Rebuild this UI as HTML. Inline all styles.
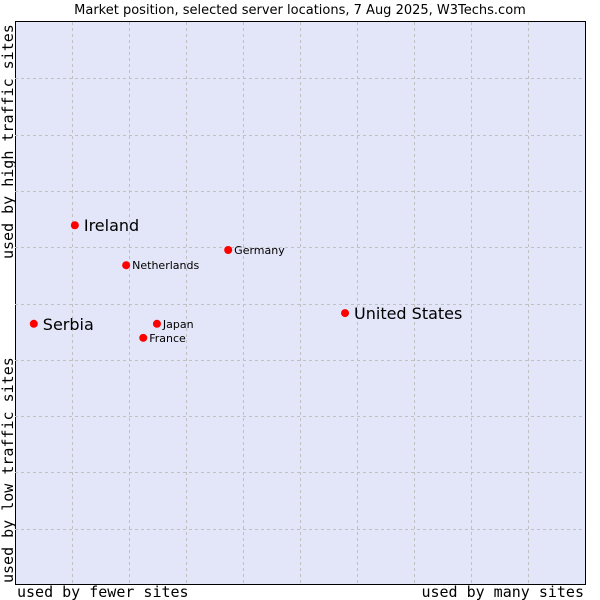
<!DOCTYPE html>
<html><head><meta charset="utf-8"><style>
body{margin:0;background:#fff;}
svg{display:block;}
.mono{font-family:"DejaVu Sans Mono","Liberation Mono",monospace;font-size:15px;fill:#000;}
.sans{font-family:"DejaVu Sans","Liberation Sans",sans-serif;fill:#000;}
</style></head><body>
<svg id="chart" width="600" height="600">
<text class="sans" x="300" y="14" font-size="13" text-anchor="middle">Market position, selected server locations, 7 Aug 2025, W3Techs.com</text>
<rect x="15.5" y="21.5" width="570" height="563" fill="#e3e5f8" stroke="#000" stroke-width="1"/>
<g id="grid"></g>
<g id="points"></g>
<text class="mono" x="17" y="597">used by fewer sites</text>
<text class="mono" x="584" y="597" text-anchor="end">used by many sites</text>
<text class="mono" transform="translate(13,259) rotate(-90)">used by high traffic sites</text>
<text class="mono" transform="translate(13,583) rotate(-90)">used by low traffic sites</text>
</svg>
<script>
const names=["Ireland","Netherlands","Germany","United States","Serbia","Japan","France"];
const xVals=[10.5,19.5,37.4,57.9,3.3,24.9,22.5];
const yVals=[63.9,56.8,59.5,48.3,46.4,46.4,43.9];
const bigLabel=[true,false,false,true,true,false,false];
const X0=15,X1=585,Y0=585,Y1=22;
const sx=v=>X0+v/100*(X1-X0);
const sy=v=>Y0-v/100*(Y0-Y1);
const ns="http://www.w3.org/2000/svg";
const grid=document.getElementById('grid');
for(let i=1;i<10;i++){
  const gx=Math.round(X0+i*(X1-X0)/10)+0.5;
  const l=document.createElementNS(ns,'line');
  
  
  l.setAttribute('x1',gx);l.setAttribute('x2',gx);l.setAttribute('y1',Y1);l.setAttribute('y2',Y0);
  l.setAttribute('stroke','#c0c0c0');l.setAttribute('stroke-dasharray','3,3');
  grid.appendChild(l);
  const gy=Math.round(Y1+i*(Y0-Y1)/10)+0.5;
  const h=document.createElementNS(ns,'line');
  
  
  h.setAttribute('x1',X0);h.setAttribute('x2',X1);h.setAttribute('y1',gy);h.setAttribute('y2',gy);
  h.setAttribute('stroke','#c0c0c0');h.setAttribute('stroke-dasharray','3,3');
  grid.appendChild(h);
}
const pts=document.getElementById('points');
names.forEach((n,i)=>{
  const cx=sx(xVals[i]),cy=sy(yVals[i]);
  const c=document.createElementNS(ns,'circle');
  
  
  c.setAttribute('cx',cx);c.setAttribute('cy',cy);c.setAttribute('r',4);c.setAttribute('fill','#f00');
  pts.appendChild(c);
  const t=document.createElementNS(ns,'text');
  
  
  t.setAttribute('class','sans');
  t.setAttribute('x',cx+(bigLabel[i]?9:6));
  t.setAttribute('y',cy+(bigLabel[i]?6:4));
  t.setAttribute('font-size',bigLabel[i]?16:11);
  t.textContent=n;
  pts.appendChild(t);
});
</script>
</body></html>
